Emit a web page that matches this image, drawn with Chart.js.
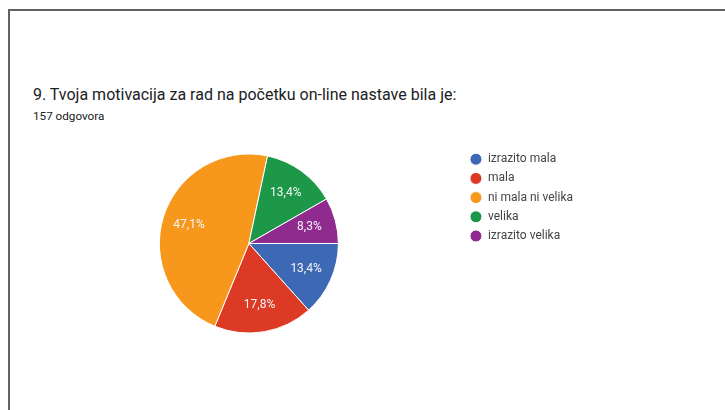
<!DOCTYPE html>
<html>
<head>
<meta charset="utf-8">
<script src="https://cdn.jsdelivr.net/npm/chart.js@4/dist/chart.umd.min.js"></script>
<style>
  html, body { margin: 0; padding: 0; background: #fff; }
  #wrap { position: relative; width: 725px; height: 410px; background: #fff; overflow: hidden; font-family: Roboto, "Noto Sans", sans-serif; }
  .bt { position: absolute; left: 8px; top: 9px; right: 0; height: 2px; background: #636363; }
  .bl { position: absolute; left: 8px; top: 9px; bottom: 0; width: 2px; background: #636363; }
  #title { position: absolute; left: 33px; top: 85px; font-size: 16px; line-height: 20px; color: #202124; white-space: nowrap; }
  #sub { position: absolute; left: 33px; top: 109px; font-size: 11.7px; line-height: 14px; color: #202124; white-space: nowrap; }
  #c { position: absolute; left: 0; top: 0; }
</style>
</head>
<body>
<div id="wrap">
  <div class="bt"></div>
  <div class="bl"></div>
  <div id="title">9. Tvoja motivacija za rad na početku on-line nastave bila je:</div>
  <div id="sub">157 odgovora</div>
  <canvas id="c" width="725" height="410"></canvas>
</div>
<script>
// ---- data ----
const categories = ["izrazito mala", "mala", "ni mala ni velika", "velika", "izrazito velika"];
const responses = [21, 28, 74, 21, 13];
const sliceColors = ["#3d69b4", "#dc3a24", "#f7981d", "#1c9848", "#8f2a8f"];

const total = responses.reduce((a, b) => a + b, 0);

const sliceLabels = {
  id: 'sliceLabels',
  afterDatasetsDraw(chart) {
    const ctx = chart.ctx;
    const meta = chart.getDatasetMeta(0);
    ctx.save();
    ctx.font = '12px Roboto, "Noto Sans", sans-serif';
    ctx.fillStyle = '#f6f6f6';
    ctx.textAlign = 'center';
    ctx.textBaseline = 'middle';
    meta.data.forEach((arc, i) => {
      const p = arc.getProps(['x', 'y', 'startAngle', 'endAngle', 'outerRadius'], true);
      const mid = (p.startAngle + p.endAngle) / 2;
      const r = p.outerRadius * 0.7;
      const pct = (responses[i] / total * 100).toFixed(1).replace('.', ',') + '%';
      ctx.fillText(pct, p.x + Math.cos(mid) * r, p.y + Math.sin(mid) * r);
    });
    ctx.restore();
  }
};

Chart.defaults.font.family = 'Roboto, "Noto Sans", sans-serif';

new Chart(document.getElementById('c'), {
  type: 'pie',
  data: {
    labels: categories,
    datasets: [{
      data: responses,
      backgroundColor: sliceColors,
      borderColor: '#ffffff',
      borderWidth: 1,
      radius: 89.5
    }]
  },
  options: {
    responsive: false,
    animation: false,
    rotation: 90,
    layout: { padding: { top: 146, bottom: 69, left: 35, right: 142 } },
    plugins: {
      tooltip: { enabled: false },
      legend: {
        position: 'right',
        align: 'start',
        labels: {
          usePointStyle: true,
          pointStyle: 'circle',
          pointStyleWidth: 12,
          boxHeight: 8.5,
          padding: 7.2,
          color: '#444444',
          font: { size: 12 }
        }
      }
    }
  },
  plugins: [sliceLabels]
});
</script>
</body>
</html>
